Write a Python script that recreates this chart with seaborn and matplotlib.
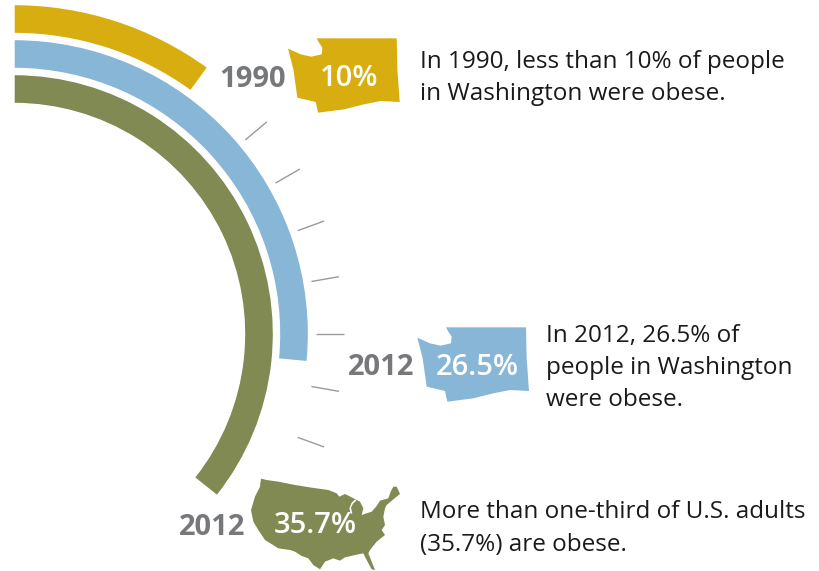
import numpy as np
import pandas as pd
import seaborn as sns
import matplotlib.pyplot as plt
from matplotlib.patches import Polygon

# Obesity rates, as a share of a full turn around the dial
groups = ["Washington 1990", "Washington 2012", "U.S. 2012"]
rates = [10.0, 26.5, 35.7]
ring_radii = [315, 280, 245]
ring_colors = ["#D8AD10", "#87B6D6", "#808A52"]
tick_percents = [13.89, 16.67, 19.44, 22.22, 25.0, 27.78, 30.56]

years = ["1990", "2012", "2012"]
rate_labels = ["10%", "26.5%", "35.7%"]
notes = [
    ["In 1990, less than 10% of people", "in Washington were obese."],
    ["In 2012, 26.5% of", "people in Washington", "were obese."],
    ["More than one-third of U.S. adults", "(35.7%) are obese."],
]

# Map silhouettes, in pixels from the top left of the canvas
washington = np.array([
    (108, 37), (348, 37), (350, 130), (357, 228), (300, 225), (250, 235), (190, 250),
    (112, 260), (105, 228), (50, 215), (38, 130), (22, 68), (60, 85), (92, 92),
    (123, 85), (125, 65), (115, 50)]) / 3
usa = np.array([
    (48, 26), (65, 30), (100, 35), (150, 45), (200, 53), (250, 60), (275, 70), (283, 80),
    (300, 72), (320, 82), (345, 95), (355, 115), (350, 135),
    (380, 125), (395, 108), (405, 92), (430, 85), (437, 65), (445, 50), (455, 50),
    (465, 72), (445, 88), (425, 105), (420, 115), (415, 140), (420, 165), (410, 180),
    (420, 195), (395, 215), (375, 240), (370, 250), (378, 270), (390, 300), (380, 298),
    (365, 270), (355, 250), (330, 255), (300, 262), (285, 272), (265, 265), (240, 275),
    (225, 298), (205, 285), (190, 265), (170, 258), (150, 245), (135, 240), (100, 235),
    (60, 210), (40, 180), (25, 155), (18, 120), (30, 80), (45, 50)]) / 3
lake_michigan = np.array([(331, 88), (320, 98), (313, 115), (317, 131), (322, 131),
                          (318, 113), (324, 101), (334, 92)]) / 3

W, H = 820, 571
CX, CY, RMAX = 14, 334, 340
GRAY = "#77787B"
TEXT = "#1A1A1A"

sns.set_style("white")
plt.rcParams["font.family"] = ["Open Sans", "DejaVu Sans"]

fig = plt.figure(figsize=(W / 100, H / 100), dpi=100, facecolor="white")

# Dial: the rings are horizontal bars on a clockwise polar axis
dial = fig.add_axes([(CX - RMAX) / W, (H - CY - RMAX) / H, 2 * RMAX / W, 2 * RMAX / H],
                    projection="polar")
dial.set_theta_zero_location("N")
dial.set_theta_direction(-1)

rings = pd.DataFrame({
    "group": groups,
    "sweep": np.radians(np.array(rates) * 3.6),
    "radius": ring_radii,
})
sns.barplot(data=rings, x="sweep", y="radius", hue="group", palette=ring_colors,
            orient="y", native_scale=True, dodge=False, width=29 / 35, saturation=1,
            legend=False, ax=dial)

for pct in tick_percents:
    theta = np.radians(pct * 3.6)
    dial.plot([theta, theta], [302, 330], color="#9A9A9A", lw=1.0, solid_capstyle="butt")

dial.set_ylim(0, RMAX)
dial.set_xlabel("")
dial.set_ylabel("")
dial.set_xticks([])
dial.set_yticks([])
dial.grid(False)
dial.spines["polar"].set_visible(False)
dial.patch.set_alpha(0)

# Overlay in canvas pixels for the maps and captions
canvas = fig.add_axes([0, 0, 1, 1])
canvas.set_xlim(0, W)
canvas.set_ylim(H, 0)
canvas.axis("off")
canvas.patch.set_alpha(0)

canvas.add_patch(Polygon(washington + (280.7, 26), closed=True, fc=ring_colors[0], ec="none"))
canvas.add_patch(Polygon(washington + (410, 315), closed=True, fc=ring_colors[1], ec="none"))
canvas.add_patch(Polygon(usa + (245, 470), closed=True, fc=ring_colors[2], ec="none"))
canvas.add_patch(Polygon(lake_michigan + (245, 470), closed=True, fc="white", ec="none"))

year_pos = [(219, 87), (348, 375), (179, 535)]
rate_pos = [(320, 86), (436, 375), (274, 533)]
note_pos = [(420, [68, 100]), (546, [342, 374, 406]), (420, [518, 551])]

for year, (x, y) in zip(years, year_pos):
    canvas.text(x, y, year, color=GRAY, fontsize=21, fontweight="bold", va="baseline")
for label, (x, y) in zip(rate_labels, rate_pos):
    canvas.text(x, y, label, color="white", fontsize=21, fontweight="semibold", va="baseline")
for lines, (x, baselines) in zip(notes, note_pos):
    for line, y in zip(lines, baselines):
        canvas.text(x, y, line, color=TEXT, fontsize=17.5, va="baseline")

fig.savefig("out.png", dpi=100, facecolor="white")
